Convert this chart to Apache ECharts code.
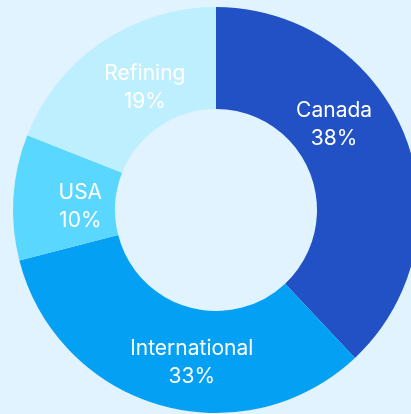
<!DOCTYPE html>
<html>
<head>
<meta charset="utf-8">
<script src="https://cdn.jsdelivr.net/npm/echarts@6/dist/echarts.min.js"></script>
<style>
  html, body { margin: 0; padding: 0; background: #e0f3fe; }
  #main { width: 411px; height: 414px; }
</style>
</head>
<body>
<div id="main"></div>
<script>
var segments = ['Canada', 'International', 'USA', 'Refining'];
var shares = [38, 33, 10, 19];
var colors = ['#2151c5', '#04a0f3', '#5ad7fe', '#beeffe'];
// nudges so the labels sit where the reference puts them
var labelShift = [[-26, -28], [19, 4], [19, 6], [16, 6]];

var data = segments.map(function (name, i) {
  return {
    name: name,
    value: shares[i],
    itemStyle: { color: colors[i] },
    label: { offset: labelShift[i] }
  };
});

var chart = echarts.init(document.getElementById('main'));
chart.setOption({
  backgroundColor: '#e0f3fe',
  animation: false,
  series: [
    {
      type: 'pie',
      center: [216, 210],
      radius: [101, 203],
      startAngle: 90,
      clockwise: true,
      avoidLabelOverlap: false,
      itemStyle: { borderWidth: 0 },
      label: {
        show: true,
        position: 'inside',
        color: '#ffffff',
        fontFamily: 'Inter',
        fontSize: 21,
        lineHeight: 28,
        align: 'center',
        formatter: function (p) {
          return p.name + '\n' + p.value + '%';
        }
      },
      labelLine: { show: false },
      emphasis: { disabled: true },
      data: data
    }
  ]
});
</script>
</body>
</html>
